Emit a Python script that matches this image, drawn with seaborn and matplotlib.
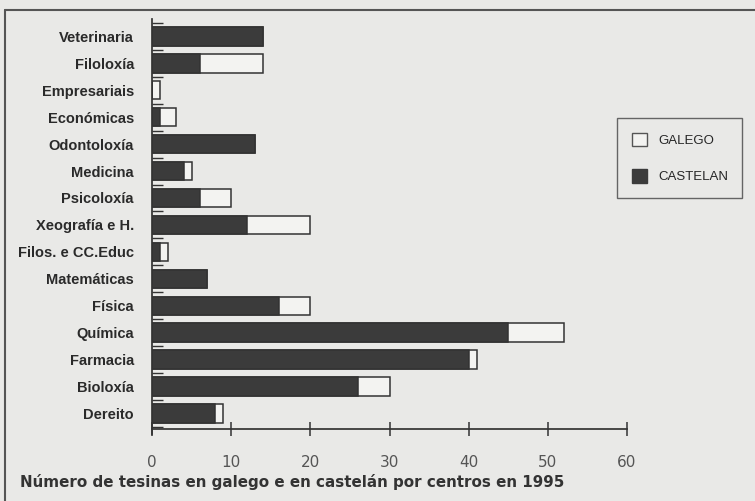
import numpy as np
import pandas as pd
import matplotlib.pyplot as plt
import seaborn as sns
from matplotlib.lines import Line2D
from matplotlib.patches import Patch

# data (top to bottom)
centros = ["Veterinaria", "Filoloxía", "Empresariais", "Económicas", "Odontoloxía",
           "Medicina", "Psicoloxía", "Xeografía e H.", "Filos. e CC.Educ", "Matemáticas",
           "Física", "Química", "Farmacia", "Bioloxía", "Dereito"]
castelan = [14, 6, 0, 1, 13, 4, 6, 12, 1, 7, 16, 45, 40, 26, 8]
galego = [0, 8, 1, 2, 0, 1, 4, 8, 1, 0, 4, 7, 1, 4, 1]
xticks = [0, 10, 20, 30, 40, 50, 60]

df = pd.DataFrame({"Centro": centros, "Castelan": castelan, "Galego": galego})
df["Total"] = df["Castelan"] + df["Galego"]

bg = "#e9e9e7"
dark = "#3b3b3b"
light = "#f3f3f1"

sns.set_theme(style="white")
plt.rcParams["font.family"] = ["Liberation Sans", "DejaVu Sans"]

fig = plt.figure(figsize=(7.55, 5.01), dpi=100, facecolor=bg)
ax = fig.add_axes([152 / 755, 1 - 429 / 501, 475 / 755, 406 / 501])
ax.set_facecolor(bg)

# stacked: total (light) below, castelán (dark) drawn over it
sns.barplot(data=df, y="Centro", x="Total", color=light, edgecolor="#333333",
            linewidth=1.1, width=0.68, orient="h", ax=ax, saturation=1)
sns.barplot(data=df, y="Centro", x="Castelan", color=dark, edgecolor="#333333",
            linewidth=1.1, width=0.68, orient="h", ax=ax, saturation=1)

ax.set_xlim(0, 60)
ax.set_ylim(len(centros) - 0.42, -0.5)
ax.set_xlabel("")
ax.set_ylabel("")
ax.set_xticks(xticks)
ax.set_xticklabels([str(v) for v in xticks], family="DejaVu Sans", fontsize=11,
                   color="#555555")
ax.tick_params(axis="x", bottom=True, direction="inout", length=10, width=1.1,
               color="#333333", pad=14)

ax.set_yticks(range(len(centros)))
ax.set_yticklabels(centros, fontsize=10.5, color="#2a2a2a", fontweight="bold")
ax.tick_params(axis="y", length=0, pad=13)
ax.set_yticks(np.arange(-0.5, len(centros), 1), minor=True)
ax.tick_params(axis="y", which="minor", direction="in", length=8, width=1,
               color="#333333", left=True)

for s in ["top", "right"]:
    ax.spines[s].set_visible(False)
ax.spines["left"].set_color("#333333")
ax.spines["bottom"].set_color("#333333")
ax.spines["left"].set_bounds(len(centros) - 0.25, -0.65)

# legend box on the right
handles = [Patch(facecolor=light, edgecolor="#555555", label="GALEGO"),
           Patch(facecolor=dark, edgecolor=dark, label="CASTELAN")]
leg = fig.legend(handles=handles, loc="upper left", bbox_to_anchor=(617 / 755, 1 - 118 / 501),
                 borderaxespad=0, frameon=True, fontsize=9.5, fancybox=False,
                 edgecolor="#444444", facecolor=bg, labelspacing=1.7, handlelength=1.2,
                 handleheight=1.2, borderpad=1.1, handletextpad=0.8)
leg.get_frame().set_linewidth(1.0)

fig.text(20 / 755, 1 - 487 / 501,
         "Número de tesinas en galego e en castelán por centros en 1995",
         family="DejaVu Sans", fontweight="bold", fontsize=10.9, color="#333333")

# scanned page border (top and left only)
fig.add_artist(Line2D([5 / 755, 1], [1 - 10 / 501, 1 - 10 / 501], color="#555555", lw=1.5))
fig.add_artist(Line2D([5 / 755, 5 / 755], [1 - 10 / 501, 0], color="#555555", lw=1.5))

fig.savefig("out.png", dpi=100, facecolor=bg)
